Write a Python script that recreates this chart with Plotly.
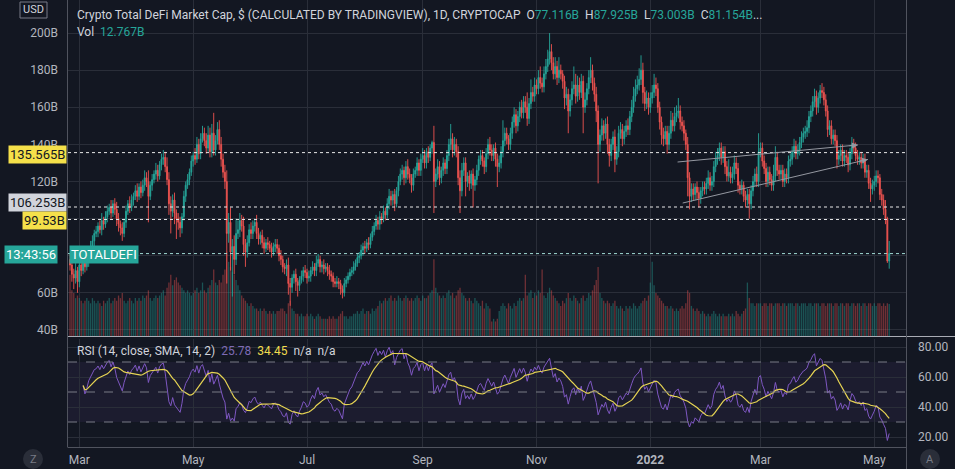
import numpy as np
import pandas as pd
import plotly.graph_objects as go

# ---------------- data ----------------
start_date = "2021-02-24"
first_open = 78.0

closes = [
75,70,68,72,66,75,72,78,74,77,82,85,88,92,93,96,94,99,97,101,
104,106,103,108,105,100,97,95,92,98,104,108,106,110,112,115,112,117,114,118,
122,120,112,118,121,124,126,123,129,132,133,128,121,108,104,110,103,100,98,95,
101,112,118,121,125,131,134,132,140,135,143,146,142,138,145,136,146,137,142,148,
140,132,125,120,92,98,82,85,78,92,94,99,96,86,82,87,94,92,96,98,
92,89,91,87,84,87,86,84,82,85,86,84,80,78,74,73,75,65,63,68,
70,66,64,67,69,72,71,68,69,72,74,72,76,78,74,75,73,74,72,70,
69,66,65,66,65,62,60,65,67,69,71,72,74,76,79,80,83,85,84,87,
86,90,93,96,99,97,101,100,104,102,108,112,110,113,108,115,120,124,126,122,
128,124,122,118,124,126,130,126,132,134,130,136,133,138,141,120,124,128,122,126,
130,127,134,140,143,137,140,136,122,115,126,130,120,123,119,124,118,121,126,132,
134,131,128,135,140,137,134,138,132,128,130,136,142,146,143,140,146,152,156,150,
155,160,157,163,160,154,162,168,166,172,170,176,173,171,178,182,186,190,184,178,
182,176,180,178,174,165,167,158,164,170,172,166,172,168,174,160,164,170,176,180,
173,167,158,140,145,150,146,151,140,134,140,144,132,136,146,148,143,147,150,148,
155,160,166,170,172,175,180,168,162,165,160,165,168,172,170,160,152,145,143,147,
140,146,153,150,155,157,158,152,150,146,140,122,112,116,113,117,114,111,115,117,
116,119,122,118,120,128,132,134,138,133,136,128,123,125,122,124,130,127,118,116,
118,112,110,113,108,115,120,124,120,136,138,131,127,120,125,121,118,123,133,126,
124,126,120,124,122,131,132,136,139,135,137,141,144,146,147,149,155,158,163,166,
160,165,169,168,164,158,148,150,143,145,142,132,134,137,131,134,133,129,135,140,
138,134,132,133,130,132,125,126,119,116,118,120,123,122,113,110,105,100,77.116,81.154]

up_wick = [
3,2,3,4,2,3,3,2,4,3,2,3,3,2,3,2,3,4,2,3,
3,2,4,2,3,4,3,2,3,2,3,2,4,3,2,3,4,2,3,3,
4,3,6,2,3,2,4,3,2,3,4,3,5,4,4,3,4,2,3,3,
2,3,2,3,2,3,2,4,4,3,3,4,3,4,5,4,5,11,3,4,
5,4,3,4,6,5,8,4,6,8,5,4,3,5,3,4,3,4,3,2,
4,3,2,3,3,2,3,2,3,2,3,3,2,3,2,2,3,4,3,2,
2,3,2,2,3,2,3,2,3,2,3,2,4,3,2,2,3,2,2,3,
2,2,2,3,2,2,2,3,2,2,2,2,3,2,2,2,3,2,3,2,
3,2,3,2,3,2,3,2,3,2,3,4,3,2,3,2,3,3,3,2,
3,4,3,2,3,2,3,2,3,4,3,2,3,2,1,9,3,4,3,2,
3,2,3,3,8,3,4,3,3,4,4,3,3,2,3,2,3,2,3,2,
3,3,2,3,3,4,3,2,3,3,4,3,11,3,3,2,3,3,4,3,
3,3,4,3,3,8,3,7,3,4,3,4,6,3,4,4,5,10,4,3,
5,3,7,3,2,3,4,3,3,4,10,6,5,4,4,3,4,3,4,7,
3,3,4,3,3,4,3,3,4,3,3,3,4,3,4,4,3,3,3,4,
3,4,5,5,5,6,8,4,3,4,3,3,4,6,4,3,3,3,4,3,
3,4,5,4,5,4,7,3,3,3,2,4,3,3,3,2,3,3,2,3,
3,3,4,3,3,3,4,4,3,3,3,3,3,7,3,4,4,3,3,2,
3,2,3,3,3,3,3,3,4,10,3,3,3,3,3,3,3,6,6,3,
3,3,3,3,3,3,3,3,4,3,3,3,3,3,3,4,3,3,3,4,
3,3,3,4,3,3,3,3,3,3,3,3,3,3,3,3,3,3,3,4,
3,3,3,3,3,3,3,3,3,3,3,3,3,3,2,3,3,5,1,6.771]

down_wick = [
3,4,6,3,6,3,3,2,3,2,3,2,3,4,2,3,2,3,3,2,
3,2,3,2,3,4,4,4,4,2,3,2,3,2,3,2,3,2,3,2,
3,3,14,2,3,2,3,3,2,3,3,3,3,6,12,3,6,11,4,5,
3,2,3,2,3,2,3,3,2,3,3,2,3,3,2,3,3,3,3,2,
3,4,3,4,27,5,10,24,8,3,3,4,3,6,8,3,2,3,3,3,
3,3,3,3,3,2,3,2,3,2,3,3,3,3,3,3,4,6,10,3,
3,5,6,3,2,3,3,3,2,3,2,3,3,2,3,3,3,2,3,3,
3,3,2,2,3,3,3,2,2,2,2,2,2,2,2,3,2,3,3,2,
3,2,2,2,2,3,3,3,2,3,2,3,3,3,4,2,3,2,3,4,
3,3,3,4,3,2,3,3,3,2,3,3,3,2,3,17,3,3,4,3,
3,3,3,3,3,4,3,3,4,12,3,3,8,3,4,3,12,3,3,3,
3,3,4,3,3,3,3,3,4,11,3,3,3,3,3,3,3,3,3,4,
3,3,3,3,3,4,3,3,3,3,3,3,3,3,3,3,3,3,4,3,
3,4,3,3,4,6,4,12,3,3,3,4,3,4,3,14,3,3,3,3,
4,4,6,21,4,3,4,3,5,6,3,3,7,3,3,3,4,3,3,3,
3,3,3,3,3,3,3,6,4,3,4,3,3,3,4,3,4,5,4,3,
5,3,3,3,3,3,3,4,3,4,3,10,7,3,3,3,4,5,3,3,
3,3,3,3,3,3,3,3,3,4,3,4,3,3,3,3,3,3,4,3,
3,3,4,3,8,3,3,3,3,3,3,3,3,3,3,3,3,3,3,3,
3,3,3,3,3,3,3,3,3,3,3,3,3,3,3,3,3,3,3,3,
4,3,3,3,3,3,4,3,3,3,3,5,3,3,3,3,3,4,3,3,
3,3,3,3,3,3,3,3,3,7,3,3,3,3,3,3,3,3,1,4.113]

volumes = [
24,18,17,15,16,15,14,13,14,15,14,13,15,14,13,14,13,12,14,13,
14,15,13,14,15,14,16,15,17,14,13,14,15,14,13,15,14,15,14,16,
15,16,18,15,14,15,16,15,16,17,18,16,19,21,24,20,22,23,21,20,
19,18,17,18,17,16,17,18,19,17,18,21,18,17,19,20,22,26,21,20,
22,21,24,26,33,29,27,25,24,22,20,18,16,15,14,13,12,13,12,11,
11,10,11,10,11,10,9,10,9,10,9,10,10,11,11,10,9,13,14,11,
10,9,9,8,9,8,8,9,8,9,8,7,8,9,8,7,7,7,7,8,
7,8,7,7,8,9,10,8,8,7,8,8,9,9,10,9,10,11,9,10,
10,9,11,10,11,12,14,13,14,15,14,15,16,14,15,14,16,15,14,15,
16,15,14,15,14,15,16,15,14,16,15,15,16,17,18,30,19,17,16,15,
16,15,17,18,16,17,15,16,18,19,17,16,15,14,15,14,13,15,14,13,
12,14,11,13,12,11,6,7,6,7,10,12,13,12,11,13,12,11,13,12,
14,15,14,15,24,16,17,18,15,17,16,18,17,26,16,15,17,19,18,16,
15,14,13,12,14,13,15,17,15,14,16,15,14,13,15,16,14,15,17,16,
18,20,22,27,17,15,14,13,14,13,12,13,14,12,11,12,11,10,12,11,
12,11,13,12,11,12,13,14,15,14,16,21,29,20,17,16,15,14,13,12,
12,11,12,11,10,11,10,11,12,11,13,18,17,12,11,10,11,10,9,10,
9,8,9,8,9,10,9,8,9,8,9,8,8,9,8,9,8,10,9,8,
9,10,11,21,15,13,13,12,13,13,13,12,13,13,12,13,13,12,13,13,
13,12,13,13,12,13,13,13,12,13,13,12,13,13,13,12,13,13,12,13,
13,13,12,13,13,12,13,13,13,12,13,13,12,13,13,12,13,13,12,13,
13,12,13,13,12,13,13,12,13,13,12,13,12,13,13,12,13,12,13,12.767]

price_levels = [135.565, 106.253, 99.53]
price_level_labels = ["135.565B", "106.253B", "99.53B"]
last_price = 81.154

trend_start_dates = ["2022-01-15 14:00", "2022-01-18 08:00"]
trend_start_prices = [130.5, 108.4]
trend_end_dates = ["2022-04-22 05:00", "2022-04-27 14:00"]
trend_end_prices = [139.7, 131.9]

month_ticks = ["2021-03-01", "2021-05-01", "2021-07-01", "2021-09-01",
               "2021-11-01", "2022-01-01", "2022-03-01", "2022-05-01"]
month_labels = ["Mar", "May", "Jul", "Sep", "Nov", "<b>2022</b>", "Mar", "May"]
price_ticks = [40, 60, 80, 100, 120, 140, 160, 180, 200]
price_tick_labels = ["40B", "60B", "", "", "120B", "140B", "160B", "180B", "200B"]
rsi_ticks = [20, 40, 60, 80]
rsi_bands = [70, 50, 30]

# ---------------- derived ----------------
n = len(closes)
dates = pd.date_range(start_date, periods=n, freq="D")
opens = [first_open] + closes[:-1]
highs = [max(o, c) + u for o, c, u in zip(opens, closes, up_wick)]
lows = [min(o, c) - d for o, c, d in zip(opens, closes, down_wick)]

UP = "#26a69a"
DN = "#ef5350"
vol_colors = ["rgba(38,166,154,0.42)" if c >= o else "rgba(239,83,80,0.42)"
              for o, c in zip(opens, closes)]

# RSI (14, Wilder RMA; short expanding warm-up at the start) and its SMA(14)
c = np.array(closes, dtype=float)
delta = np.diff(c, prepend=np.nan)
gain = np.where(delta > 0, delta, 0.0)
loss = np.where(delta < 0, -delta, 0.0)
L = 14
W0 = 7
ag = np.full(n, np.nan)
al = np.full(n, np.nan)
for i in range(W0, n):
    if i <= L:
        ag[i] = gain[1:i + 1].mean()
        al[i] = loss[1:i + 1].mean()
    else:
        ag[i] = (ag[i - 1] * (L - 1) + gain[i]) / L
        al[i] = (al[i - 1] * (L - 1) + loss[i]) / L
rsi = 100 - 100 / (1 + ag / al)
rsi_ma = pd.Series(rsi).rolling(14, min_periods=1).mean().values

# ---------------- figure ----------------
W, H = 955, 469
def X(p): return p / W
def Y(p): return 1 - p / H

BG = "#131722"
GRID = "#2a2e39"
TXT = "#b2b5be"
FONT = "Roboto, 'Open Sans', sans-serif"

fig = go.Figure()
fig.add_trace(go.Bar(x=dates, y=volumes, marker=dict(color=vol_colors, line=dict(width=0)),
                     xaxis="x", yaxis="y", showlegend=False, hoverinfo="skip"))
fig.add_trace(go.Candlestick(x=dates, open=opens, high=highs, low=lows, close=closes,
                             increasing=dict(line=dict(color=UP, width=0.9), fillcolor=UP),
                             decreasing=dict(line=dict(color=DN, width=0.9), fillcolor=DN),
                             xaxis="x", yaxis="y3", showlegend=False, whiskerwidth=0))
fig.add_trace(go.Scatter(x=dates, y=rsi, mode="lines", line=dict(color="#7e57c2", width=1),
                         xaxis="x2", yaxis="y2", showlegend=False))
fig.add_trace(go.Scatter(x=dates, y=rsi_ma, mode="lines", line=dict(color="#e6d453", width=1.2),
                         xaxis="x2", yaxis="y2", showlegend=False))

xr = ["2021-02-22 22:00", "2022-05-18 00:00"]
xdom = [X(68), X(906)]
fig.update_layout(
    width=W, height=H, margin=dict(l=0, r=0, t=0, b=0),
    paper_bgcolor=BG, plot_bgcolor=BG, bargap=0.3,
    font=dict(family=FONT, color=TXT, size=12),
    xaxis=dict(domain=xdom, range=xr, anchor="y", tickvals=month_ticks, showticklabels=False,
               showgrid=True, gridcolor=GRID, zeroline=False, showline=False,
               rangeslider=dict(visible=False), ticks=""),
    yaxis=dict(domain=[Y(337), 1], range=[0, 130], visible=False, fixedrange=True),
    yaxis3=dict(overlaying="y", anchor="x", side="left", range=[36.2, 217.8],
                tickvals=price_ticks, ticktext=price_tick_labels,
                showgrid=True, gridcolor=GRID, zeroline=False, showline=False, ticks="",
                ticklabelstandoff=9, tickfont=dict(size=12, color=TXT)),
    xaxis2=dict(domain=xdom, range=xr, anchor="y2", tickvals=month_ticks, ticktext=month_labels,
                showgrid=True, gridcolor=GRID, zeroline=False, showline=False, ticks="",
                ticklabelstandoff=4, tickfont=dict(size=12, color=TXT)),
    yaxis2=dict(domain=[Y(447), Y(339)], range=[13.33, 85.33], side="right", anchor="x2",
                tickvals=rsi_ticks, ticktext=[f"{v:.2f}" for v in rsi_ticks],
                showgrid=True, gridcolor=GRID, zeroline=False, showline=False, ticks="",
                ticklabelstandoff=11, tickfont=dict(size=12, color=TXT)),
)

shapes = []
shapes.append(dict(type="rect", xref="x2 domain", yref="y2", x0=0, x1=1, y0=30, y1=70,
                   fillcolor="rgba(126,87,194,0.09)", line=dict(width=0), layer="below"))
for b in rsi_bands:
    shapes.append(dict(type="line", xref="x2 domain", yref="y2", x0=0, x1=1, y0=b, y1=b,
                       line=dict(color="#787b86", width=1, dash="dash")))
for lv in price_levels:
    shapes.append(dict(type="line", xref="x domain", yref="y3", x0=0, x1=1, y0=lv, y1=lv,
                       line=dict(color="#e8e8e8", width=1, dash="dot")))
shapes.append(dict(type="line", xref="x domain", yref="y3", x0=0, x1=1, y0=last_price, y1=last_price,
                   line=dict(color="#9fd8d2", width=1, dash="dot")))
for sd, sp, ed, ep in zip(trend_start_dates, trend_start_prices, trend_end_dates, trend_end_prices):
    shapes.append(dict(type="line", xref="x", yref="y3", x0=sd, y0=sp, x1=ed, y1=ep,
                       line=dict(color="#9598a1", width=1)))
BORDER = "#50535e"
shapes.append(dict(type="line", xref="paper", yref="paper", x0=X(68), x1=1, y0=Y(336.5), y1=Y(336.5),
                   line=dict(color="#a9acb5", width=1)))
shapes.append(dict(type="line", xref="paper", yref="paper", x0=X(68), x1=X(906), y0=Y(447.5), y1=Y(447.5),
                   line=dict(color=BORDER, width=1)))
shapes.append(dict(type="line", xref="paper", yref="paper", x0=X(67.5), x1=X(67.5), y0=Y(447.5), y1=1,
                   line=dict(color=BORDER, width=1)))
shapes.append(dict(type="line", xref="paper", yref="paper", x0=X(906.5), x1=X(906.5), y0=0, y1=1,
                   line=dict(color=BORDER, width=1)))
shapes.append(dict(type="rect", xref="paper", yref="paper", x0=X(20), x1=X(47), y0=Y(18), y1=Y(2),
                   line=dict(color="#787b86", width=1), fillcolor=BG))
for cx in (33, 930):
    shapes.append(dict(type="circle", xref="paper", yref="paper", x0=X(cx - 10), x1=X(cx + 10),
                       y0=Y(469), y1=Y(449), fillcolor="#2a2e39", line=dict(width=0)))
fig.update_layout(shapes=shapes)

ann = []
def txt(x, y, t, size=12, color="#d1d4dc", xanchor="left", **kw):
    ann.append(dict(x=X(x), y=Y(y), xref="paper", yref="paper", text=t, showarrow=False,
                    xanchor=xanchor, yanchor="middle", font=dict(size=size, color=color, family=FONT), **kw))

teal = "#26a69a"
title = ("Crypto Total DeFi Market Cap, $ (CALCULATED BY TRADINGVIEW), 1D, CRYPTOCAP  "
         f"O<span style='color:{teal}'>77.116B</span>  H<span style='color:{teal}'>87.925B</span>  "
         f"L<span style='color:{teal}'>73.003B</span>  C<span style='color:{teal}'>81.154B</span>...")
txt(75, 15, title, size=12)
txt(75, 32, f"Vol  <span style='color:{teal}'>12.767B</span>", size=12)
txt(75, 351, "RSI (14, close, SMA, 14, 2)  <span style='color:#7e6bb5'>25.78</span>  "
    "<span style='color:#f0dc4e'>34.45</span>  n/a  n/a", size=12)
txt(33.5, 10, "USD", size=11, xanchor="center")
txt(33, 459, "Z", size=11, color="#787b86", xanchor="center")
txt(930, 459, "A", size=11, color="#787b86", xanchor="center")

label_bg = ["#f5e04a", "#d1d4dc", "#f5e04a"]
label_shift = [-1.5, 4.5, -1.5]
for lv, lab, bg, ys in zip(price_levels, price_level_labels, label_bg, label_shift):
    ann.append(dict(x=X(67), y=lv, xref="paper", yref="y3", text=lab, showarrow=False,
                    xanchor="right", yanchor="middle", bgcolor=bg, borderpad=1, yshift=ys,
                    font=dict(size=13, color="#131722", family=FONT)))
ann.append(dict(x=X(58), y=last_price, xref="paper", yref="y3", text="13:43:56", showarrow=False,
                xanchor="right", yanchor="middle", bgcolor="#26a69a", borderpad=1, yshift=-1,
                font=dict(size=13, color="#ffffff", family=FONT)))
ann.append(dict(x=X(69), y=last_price, xref="paper", yref="y3", text="TOTALDEFI", showarrow=False,
                xanchor="left", yanchor="middle", bgcolor="#26a69a", borderpad=1, yshift=-1,
                font=dict(size=13, color="#ffffff", family=FONT)))
for ed, ep, axp, ayp in zip(trend_end_dates, trend_end_prices, [-10, -10], [1, 2]):
    ann.append(dict(x=ed, y=ep, xref="x", yref="y3", text="", showarrow=True, ax=axp, ay=ayp,
                    arrowhead=2, arrowsize=1.2, arrowwidth=1, arrowcolor="#9598a1"))
fig.update_layout(annotations=ann)

fig.write_html("out.html")
